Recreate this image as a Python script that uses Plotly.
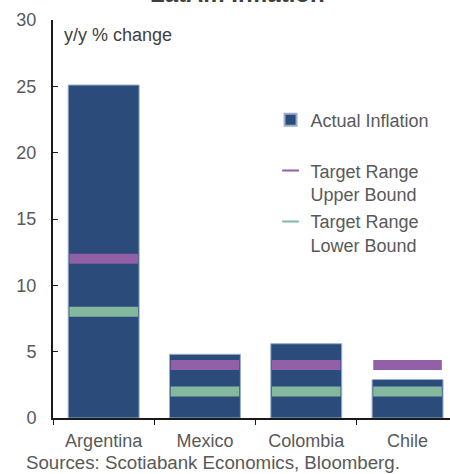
import plotly.graph_objects as go

countries = ["Argentina", "Mexico", "Colombia", "Chile"]
actual_inflation = [25.1, 4.8, 5.6, 2.9]
target_upper = [12.0, 4.0, 4.0, 4.0]
target_lower = [8.0, 2.0, 2.0, 2.0]
y_ticks = [0, 5, 10, 15, 20, 25, 30]

BAR = "#2B4C7A"
PURPLE = "#9160A6"
GREEN = "#84B9A0"
TXT = "#595959"
FONT = "Liberation Sans, Arial, sans-serif"

fig = go.Figure()
fig.add_trace(go.Bar(
    x=countries, y=actual_inflation, name="Actual Inflation<br> ",
    marker=dict(color=BAR, line=dict(color="#9AAECB", width=1)),
    width=0.70, legendgroup="a",
))
fig.add_trace(go.Scatter(
    x=countries, y=target_upper, mode="markers", name="Target Range<br>Upper Bound",
    marker=dict(symbol="line-ew", size=49, line=dict(color=PURPLE, width=10)),
    legendgroup="b",
))
fig.add_trace(go.Scatter(
    x=countries, y=target_lower, mode="markers", name="Target Range<br>Lower Bound",
    marker=dict(symbol="line-ew", size=49, line=dict(color=GREEN, width=10)),
    legendgroup="c",
))

fig.update_layout(
    width=450, height=474,
    margin=dict(l=53, r=0, t=20, b=56),
    paper_bgcolor="white", plot_bgcolor="white",
    font=dict(family=FONT, size=18, color=TXT),
    showlegend=True,
    legend=dict(
        x=0.548, y=0.795, xanchor="left", yanchor="top",
        font=dict(size=18, color=TXT), bgcolor="rgba(0,0,0,0)",
        tracegroupgap=1, itemwidth=30, valign="top", itemsizing="constant",
    ),
    xaxis=dict(
        type="category", range=[-0.5, 3.419],
        showline=True, linecolor="#1a1a1a", linewidth=2,
        ticks="outside", ticklen=5, tickcolor="#1a1a1a",
        tickson="boundaries", showgrid=False,
        tickfont=dict(size=18, color=TXT), ticklabelstandoff=5,
    ),
    yaxis=dict(
        range=[0, 30], tickvals=y_ticks,
        showline=True, linecolor="#1a1a1a", linewidth=2,
        ticks="inside", ticklen=5, tickcolor="#1a1a1a",
        showgrid=False, zeroline=False,
        tickfont=dict(size=18, color=TXT), ticklabelstandoff=11,
    ),
    annotations=[
        dict(text="y/y % change", xref="paper", yref="paper", x=0.022, y=0.962,
             xanchor="left", yanchor="middle", showarrow=False,
             font=dict(size=18, color="#404040")),
        dict(text="Sources: Scotiabank Economics, Bloomberg.", xref="paper", yref="paper",
             x=-0.072, y=-0.113, xanchor="left", yanchor="middle", showarrow=False,
             font=dict(size=18.7, color=TXT)),
        dict(text="<b>LatAm Inflation</b>", xref="paper", yref="paper",
             x=0.4635, y=1.0265, xanchor="center", yanchor="bottom", showarrow=False,
             font=dict(size=24, color="#404040")),
    ],
)

fig.write_html(
    "out.html",
    config={"displayModeBar": False},
    post_script="document.body.style.margin='0';document.body.style.overflow='hidden';",
)
